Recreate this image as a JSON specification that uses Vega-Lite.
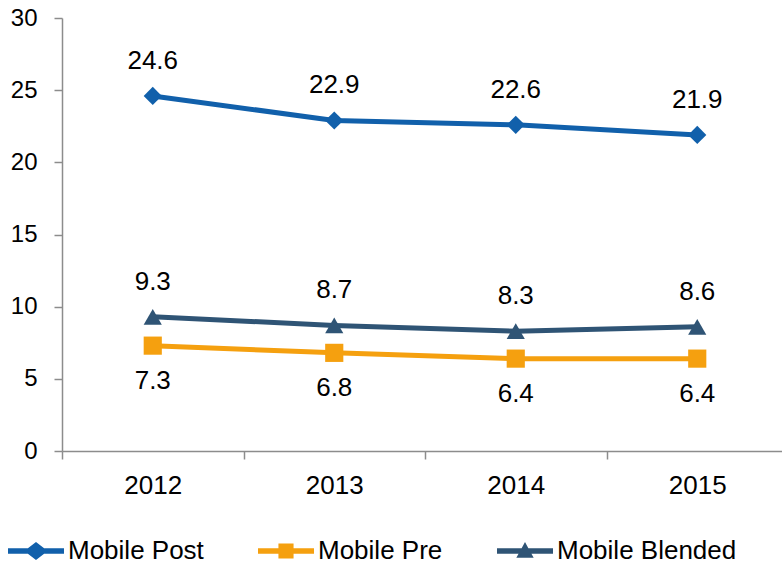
{
  "$schema": "https://vega.github.io/schema/vega-lite/v6.json",
  "width": 726,
  "height": 433,
  "autosize": "none",
  "padding": {"left": 62, "top": 18, "right": 0, "bottom": 114},
  "background": "white",
  "config": {
    "view": {"stroke": null},
    "font": "Liberation Sans",
    "axis": {"grid": false, "domainColor": "#8c8c8c", "tickColor": "#8c8c8c", "domainWidth": 1.5, "tickWidth": 1.5, "tickSize": 8, "labelColor": "black", "labelFont": "Liberation Sans", "title": null}
  },
  "data": {"values": [
    {"year": "2012", "series": "Mobile Post", "value": 24.6},
    {"year": "2013", "series": "Mobile Post", "value": 22.9},
    {"year": "2014", "series": "Mobile Post", "value": 22.6},
    {"year": "2015", "series": "Mobile Post", "value": 21.9},
    {"year": "2012", "series": "Mobile Pre", "value": 7.3},
    {"year": "2013", "series": "Mobile Pre", "value": 6.8},
    {"year": "2014", "series": "Mobile Pre", "value": 6.4},
    {"year": "2015", "series": "Mobile Pre", "value": 6.4},
    {"year": "2012", "series": "Mobile Blended", "value": 9.3},
    {"year": "2013", "series": "Mobile Blended", "value": 8.7},
    {"year": "2014", "series": "Mobile Blended", "value": 8.3},
    {"year": "2015", "series": "Mobile Blended", "value": 8.6}
  ]},
  "encoding": {
    "x": {"field": "year", "type": "ordinal", "scale": {"type": "band", "paddingInner": 0, "paddingOuter": 0},
      "axis": {"labelAngle": 0, "tickBand": "extent", "labelFontSize": 26, "labelPadding": 13}},
    "y": {"field": "value", "type": "quantitative", "scale": {"domain": [0, 30], "nice": false},
      "axis": {"values": [0, 5, 10, 15, 20, 25, 30], "labelFontSize": 24, "labelPadding": 17}}
  },
  "layer": [
    {
      "mark": {"type": "line", "strokeWidth": 5},
      "encoding": {
        "stroke": {"field": "series", "type": "nominal", "legend": null,
          "scale": {"domain": ["Mobile Pre", "Mobile Post", "Mobile Blended"], "range": ["#F5A00F", "#1160AB", "#2F5475"]}}
      }
    },
    {
      "mark": {"type": "point", "filled": true, "opacity": 1, "strokeWidth": 0},
      "encoding": {
        "fill": {"field": "series", "type": "nominal", "title": null,
          "scale": {"domain": ["Mobile Post", "Mobile Pre", "Mobile Blended"], "range": ["#1160AB", "#F5A00F", "#2F5475"]},
          "legend": {"orient": "none", "legendX": -54, "legendY": 505, "direction": "horizontal", "columns": 3, "symbolSize": 3136, "symbolStrokeWidth": 0, "labelFontSize": 26, "labelColor": "black", "labelFont": "Liberation Sans", "labelOffset": 4, "columnPadding": 54, "labelLimit": 400, "padding": 0,
            "symbolType": {"expr": "datum.value === 'Mobile Post' ? 'M-1,-0.1L-0.29,-0.1L0,-0.32L0.29,-0.1L1,-0.1L1,0.1L0.29,0.1L0,0.32L-0.29,0.1L-1,0.1Z' : datum.value === 'Mobile Pre' ? 'M-1,-0.1L-0.27,-0.1L-0.27,-0.27L0.27,-0.27L0.27,-0.1L1,-0.1L1,0.1L0.27,0.1L0.27,0.27L-0.27,0.27L-0.27,0.1L-1,0.1Z' : 'M-1,-0.1L-0.12,-0.1L0,-0.32L0.12,-0.1L1,-0.1L1,0.1L0.23,0.1L0.31,0.24L-0.31,0.24L-0.23,0.1L-1,0.1Z'"}
          }},
        "shape": {"field": "series", "type": "nominal", "legend": null,
          "scale": {"domain": ["Mobile Blended", "Mobile Post", "Mobile Pre"], "range": ["triangle-up", "diamond", "square"]}},
        "size": {"value": 330}
      }
    },
    {
      "transform": [{"filter": "datum.series !== 'Mobile Pre'"}],
      "mark": {"type": "text", "fontSize": 26, "font": "Liberation Sans", "color": "black", "baseline": "alphabetic", "dy": -27},
      "encoding": {"text": {"field": "value", "type": "quantitative", "format": ".1f"}}
    },
    {
      "transform": [{"filter": "datum.series === 'Mobile Pre'"}],
      "mark": {"type": "text", "fontSize": 26, "font": "Liberation Sans", "color": "black", "baseline": "alphabetic", "dy": 43},
      "encoding": {"text": {"field": "value", "type": "quantitative", "format": ".1f"}}
    }
  ]
}
